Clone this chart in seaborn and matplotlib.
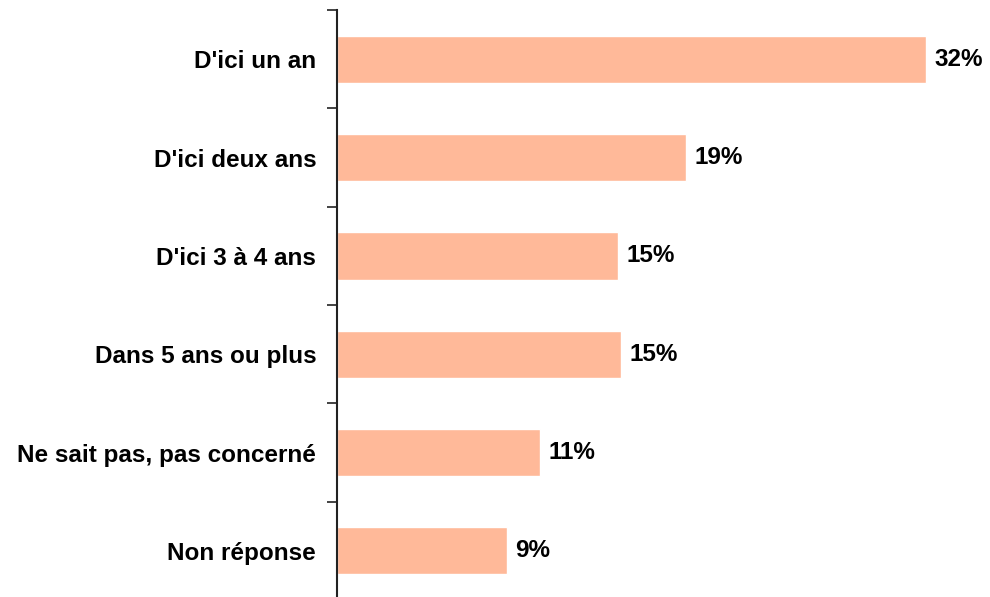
import seaborn as sns
import matplotlib.pyplot as plt
import pandas as pd

categories = ["D'ici un an", "D'ici deux ans", "D'ici 3 à 4 ans",
              "Dans 5 ans ou plus", "Ne sait pas, pas concerné", "Non réponse"]
values = [31.9, 18.9, 15.2, 15.4, 11.0, 9.2]
labels = ["32%", "19%", "15%", "15%", "11%", "9%"]

data = pd.DataFrame({"categorie": categories, "valeur": values})

sns.set_style("white")
plt.rcParams['font.family'] = ['Liberation Sans', 'DejaVu Sans']

fig = plt.figure(figsize=(9.9, 5.97), dpi=100)
ax = fig.add_axes([0.3404, -0.005, 0.653, 0.988])

sns.barplot(data=data, x="valeur", y="categorie", orient="h",
            color="#FFB999", saturation=1, width=0.48, ax=ax)

# étiquettes de valeurs
for i, (v, lab) in enumerate(zip(values, labels)):
    ax.text(v + 0.45, i, lab, va="center", ha="left",
            fontsize=17.5, fontweight="bold", color="black")

ax.set_xlim(0, 35)
ax.set_ylim(5.5, -0.5)
ax.set_xlabel("")
ax.set_ylabel("")
ax.set_xticks([])

# graduations entre les catégories (style Excel)
ax.set_yticks([i - 0.5 for i in range(len(categories) + 1)], minor=True)
ax.tick_params(axis="y", which="minor", length=7, width=1.2, color="#222222", left=True)
ax.tick_params(axis="y", which="major", length=0, pad=15)
for t in ax.get_yticklabels():
    t.set_fontsize(17.5)
    t.set_fontweight("bold")
    t.set_color("black")

for s in ["top", "right", "bottom"]:
    ax.spines[s].set_visible(False)
ax.spines["left"].set_color("#222222")
ax.spines["left"].set_linewidth(1.5)

fig.savefig("out.png", dpi=100)
